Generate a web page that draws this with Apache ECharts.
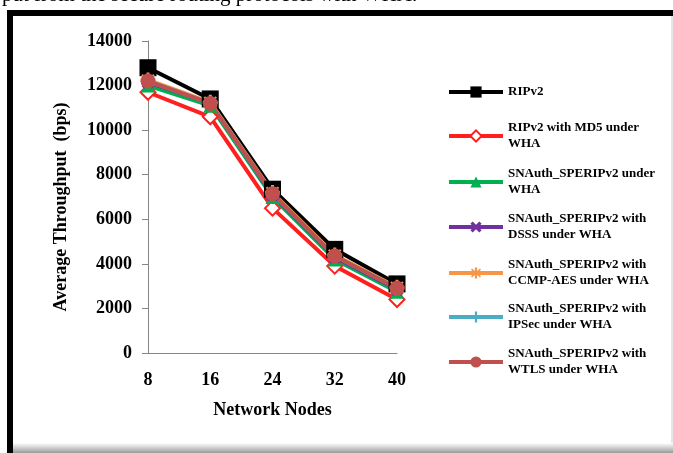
<!DOCTYPE html>
<html>
<head>
<meta charset="utf-8">
<script src="https://cdn.jsdelivr.net/npm/echarts@6/dist/echarts.min.js"></script>
<style>
  html, body { margin: 0; padding: 0; background: #fff; }
  #chart { width: 673px; height: 453px; }
</style>
</head>
<body>
<div id="chart"></div>
<script>
const categories = ['8', '16', '24', '32', '40']
const yTicks = [0, 2000, 4000, 6000, 8000, 10000, 12000, 14000]

const ripv2 = [12800, 11400, 7350, 4650, 3100]
const ripv2Md5 = [11700, 10600, 6500, 3900, 2400]
const snaWha = [12000, 11100, 7000, 4200, 2750]
const snaDsss = [12150, 11200, 7100, 4300, 2850]
const snaCcmp = [12250, 11250, 7200, 4400, 2950]
const snaIpsec = [12200, 11200, 7150, 4350, 2900]
const snaWtls = [12200, 11200, 7150, 4350, 2900]

const serif = '"Liberation Serif", "Times New Roman", serif'

const SYM_X = 'path://M0,2 L2,0 L5,3 L8,0 L10,2 L7,5 L10,8 L8,10 L5,7 L2,10 L0,8 L3,5 Z'
const SYM_PLUS = 'path://M4,0 H6 V4 H10 V6 H6 V10 H4 V6 H0 V4 H4 Z'
const SYM_STAR = 'path://M4,0 H6 V3.3 L8.5,1 L9.5,2 L7,4 H10 V6 H7 L9.5,8 L8.5,9 L6,6.7 V10 H4 V6.7 L1.5,9 L0.5,8 L3,6 H0 V4 H3 L0.5,2 L1.5,1 L4,3.3 Z'

const seriesDefs = [
  { name: 'RIPv2', data: ripv2, color: '#000000', symbol: 'rect', size: 17, twoLine: false },
  { name: 'RIPv2 with MD5 under\nWHA', data: ripv2Md5, color: '#ff1f1f', symbol: 'emptyDiamond', size: 15, twoLine: true },
  { name: 'SNAuth_SPERIPv2 under\nWHA', data: snaWha, color: '#00b050', symbol: 'triangle', size: 14, twoLine: true },
  { name: 'SNAuth_SPERIPv2 with\nDSSS under WHA', data: snaDsss, color: '#7030a0', symbol: SYM_X, size: 13, twoLine: true },
  { name: 'SNAuth_SPERIPv2 with\nCCMP-AES under WHA', data: snaCcmp, color: '#f79646', symbol: SYM_STAR, size: 15, twoLine: true },
  { name: 'SNAuth_SPERIPv2 with\nIPSec under WHA', data: snaIpsec, color: '#4bacc6', symbol: SYM_PLUS, size: 13, twoLine: true },
  { name: 'SNAuth_SPERIPv2 with\nWTLS under WHA', data: snaWtls, color: '#c0504d', symbol: 'circle', size: 15, twoLine: true }
]

// first-line y of each legend entry
const legendY = [92, 136, 182, 227, 273, 317, 362]

const legends = seriesDefs.map((s, i) => ({
  orient: 'vertical',
  left: 447,
  top: s.twoLine ? legendY[i] - 24 : legendY[i] - 8,
  padding: 0,
  itemWidth: 54,
  itemHeight: 14,
  selectedMode: false,
  lineStyle: { width: 4 },
  textStyle: {
    fontFamily: serif,
    fontWeight: 'bold',
    fontSize: 13,
    lineHeight: 16,
    color: '#000'
  },
  data: [{
    name: s.name,
    textStyle: s.twoLine ? { padding: [16, 0, 0, 0] } : {}
  }]
}))

const chart = echarts.init(document.getElementById('chart'))

chart.setOption({
  animation: false,
  backgroundColor: '#fff',
  graphic: [
    { type: 'rect', z: -10, shape: { x: 7, y: 10, width: 666, height: 443 }, style: { fill: '#000' } },
    { type: 'rect', z: -9, shape: { x: 13, y: 16, width: 660, height: 437 }, style: { fill: '#e6e6e6' } },
    { type: 'rect', z: -8, shape: { x: 13, y: 16, width: 658, height: 427 }, style: { fill: '#fff' } },
    {
      type: 'rect', z: -8, shape: { x: 13, y: 443, width: 660, height: 10 },
      style: {
        fill: new echarts.graphic.LinearGradient(0, 0, 0, 1, [
          { offset: 0, color: '#ffffff' },
          { offset: 1, color: '#9a9a9a' }
        ])
      }
    },
    {
      type: 'text', left: 2, top: -15, z: 5,
      style: { text: 'put from the secure routing protocols with WHA.', font: '21px ' + serif, fill: '#000' }
    }
  ],
  grid: { left: 148, right: 276, top: 41, bottom: 100 },
  legend: legends,
  xAxis: {
    type: 'category',
    data: categories,
    boundaryGap: false,
    name: 'Network Nodes',
    nameLocation: 'middle',
    nameGap: 48,
    nameTextStyle: { fontFamily: serif, fontWeight: 'bold', fontSize: 18, color: '#000' },
    axisLine: { lineStyle: { color: '#868686', width: 1 } },
    axisTick: { show: false },
    axisLabel: { fontFamily: serif, fontWeight: 'bold', fontSize: 18, color: '#000', margin: 18 }
  },
  yAxis: {
    type: 'value',
    min: yTicks[0],
    max: yTicks[yTicks.length - 1],
    interval: yTicks[1] - yTicks[0],
    name: 'Average Throughput  (bps)',
    nameLocation: 'middle',
    nameGap: 78,
    nameTextStyle: {
      fontFamily: serif, fontWeight: 'bold', fontSize: 18, color: '#000',
      padding: [0, 20, 0, 0]
    },
    axisLine: { show: true, lineStyle: { color: '#868686', width: 1 } },
    axisTick: { show: true, length: 6, lineStyle: { color: '#868686' } },
    splitLine: { show: false },
    axisLabel: {
      fontFamily: serif, fontWeight: 'bold', fontSize: 18, color: '#000', margin: 16,
      formatter: v => String(v)
    }
  },
  series: seriesDefs.map(s => ({
    name: s.name,
    type: 'line',
    data: s.data,
    symbol: s.symbol,
    symbolSize: s.size,
    showAllSymbol: true,
    color: s.color,
    lineStyle: { width: 4, color: s.color },
    itemStyle: { color: s.color, borderWidth: s.symbol === 'emptyDiamond' ? 3 : 0 }
  }))
})
</script>
</body>
</html>
